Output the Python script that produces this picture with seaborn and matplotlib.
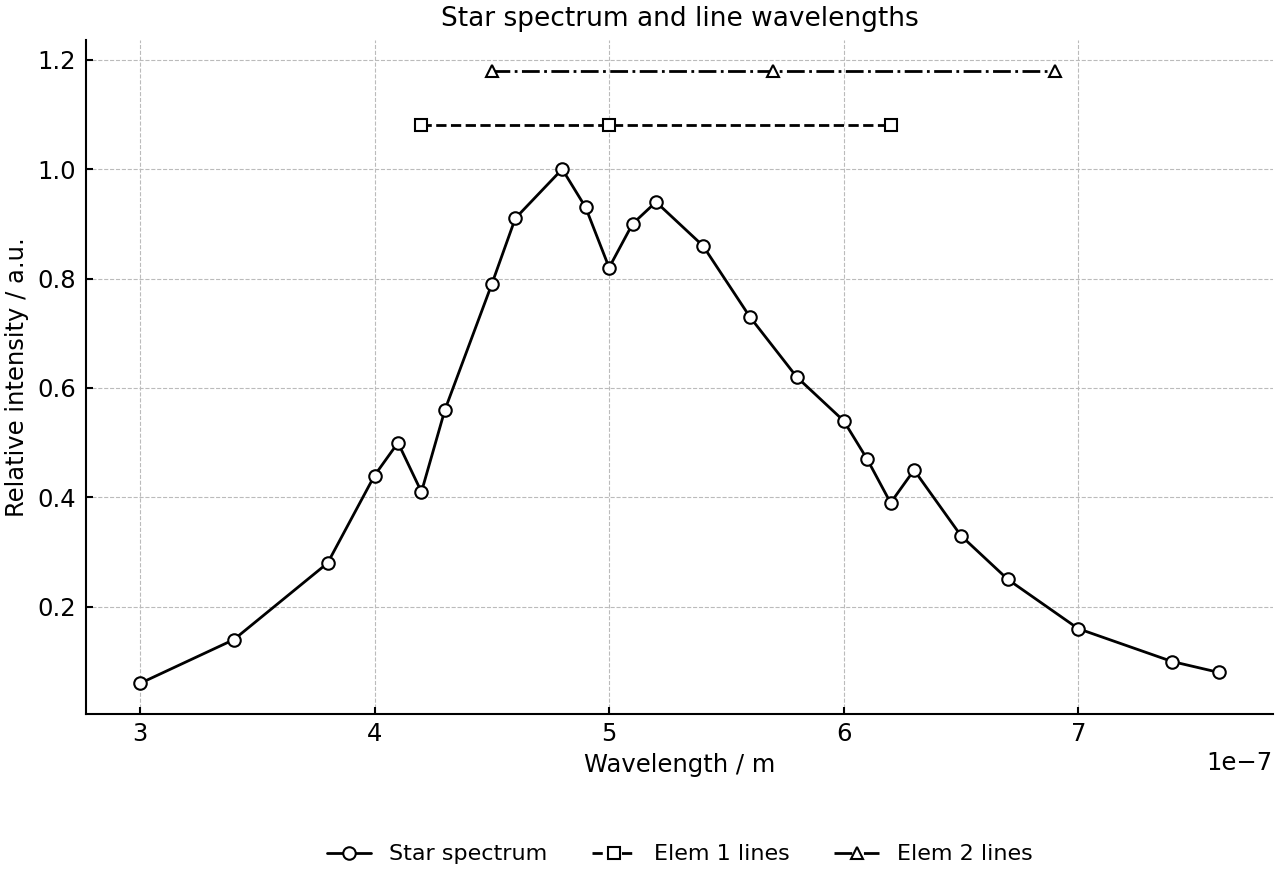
import matplotlib
matplotlib.use("Agg")
import matplotlib.pyplot as plt
import seaborn as sns

# star spectrum (wavelength in m, relative intensity)
star_wl = [3.0e-7, 3.4e-7, 3.8e-7, 4.0e-7, 4.1e-7, 4.2e-7, 4.3e-7, 4.5e-7, 4.6e-7,
           4.8e-7, 4.9e-7, 5.0e-7, 5.1e-7, 5.2e-7, 5.4e-7, 5.6e-7, 5.8e-7, 6.0e-7,
           6.1e-7, 6.2e-7, 6.3e-7, 6.5e-7, 6.7e-7, 7.0e-7, 7.4e-7, 7.6e-7]
star_int = [0.06, 0.14, 0.28, 0.44, 0.50, 0.41, 0.56, 0.79, 0.91,
            1.00, 0.93, 0.82, 0.90, 0.94, 0.86, 0.73, 0.62, 0.54,
            0.47, 0.39, 0.45, 0.33, 0.25, 0.16, 0.10, 0.08]

# element line positions, drawn at fixed heights
elem1_wl = [4.2e-7, 5.0e-7, 6.2e-7]
elem1_y = [1.08, 1.08, 1.08]
elem2_wl = [4.5e-7, 5.7e-7, 6.9e-7]
elem2_y = [1.18, 1.18, 1.18]

sns.set_style("ticks")
plt.rcParams['font.family'] = ['DejaVu Sans']
plt.rcParams.update({'text.color': 'black', 'axes.labelcolor': 'black',
                     'xtick.color': 'black', 'ytick.color': 'black',
                     'axes.edgecolor': 'black'})

fig = plt.figure(figsize=(12.8, 8.8), dpi=100)
ax = fig.add_axes([0.0672, 0.1886, 0.9273, 0.7659])

mk = dict(color='black', markerfacecolor='white', markeredgecolor='black',
          markersize=9, markeredgewidth=1.5, linewidth=2)
sns.lineplot(x=star_wl, y=star_int, marker='o', sort=False, ax=ax,
             label='Star spectrum', **mk)
sns.lineplot(x=elem1_wl, y=elem1_y, marker='s', linestyle='--', sort=False, ax=ax,
             label='Elem 1 lines', **mk)
sns.lineplot(x=elem2_wl, y=elem2_y, marker='^', linestyle='-.', sort=False, ax=ax,
             label='Elem 2 lines', **mk)

ax.set_title('Star spectrum and line wavelengths', fontsize=19, pad=10)
ax.set_xlabel('Wavelength / m', fontsize=17.5, labelpad=5)
ax.set_ylabel('Relative intensity / a.u.', fontsize=17.5, labelpad=6)
ax.grid(True, linestyle='--', color='#bbbbbb', linewidth=0.8)
ax.tick_params(direction='in', labelsize=17.5, width=1.5, length=5)
ax.tick_params(axis='x', pad=6)
ax.tick_params(axis='y', pad=7)
for s in ['top', 'right']:
    ax.spines[s].set_visible(False)
for s in ['left', 'bottom']:
    ax.spines[s].set_linewidth(1.5)
ax.xaxis.get_offset_text().set_fontsize(17.5)

handles, labels = ax.get_legend_handles_labels()
ax.get_legend().remove()
fig.legend(handles, labels, loc='lower center', bbox_to_anchor=(0.531, -0.005),
           ncol=3, frameon=False, fontsize=16)

fig.savefig('out.png', dpi=100)
